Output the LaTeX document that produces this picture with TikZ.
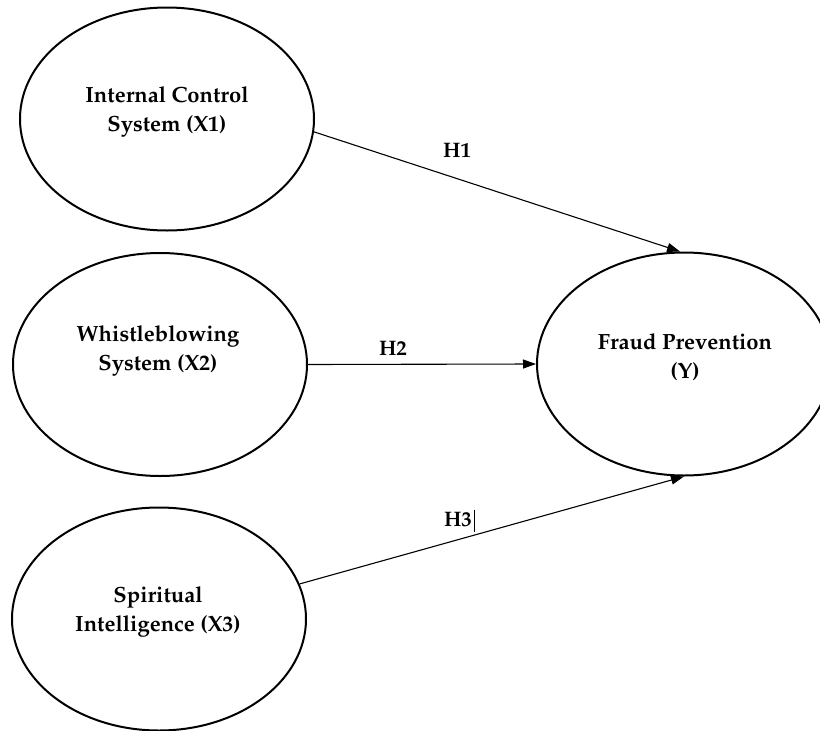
\documentclass[tikz,border=0pt]{standalone}
\usepackage[T1]{fontenc}
\usepackage{mathpazo}
\usetikzlibrary{shapes.geometric,arrows.meta}
\begin{document}
\begin{tikzpicture}[x=1pt,y=-1pt,
  var/.style={ellipse,draw,line width=2pt,minimum width=294pt,minimum height=223pt,inner sep=0pt},
  txt/.style={font=\fontsize{22}{29}\selectfont\bfseries,align=center,inner sep=0pt},
  hyp/.style={font=\fontsize{21}{25}\selectfont\bfseries,inner sep=0pt},
  link/.style={line width=1.1pt,-{Triangle[length=13pt,width=9pt]}}]
\useasboundingbox (0,0) rectangle (820,731);
\fill[white] (0,0) rectangle (820,731);
% constructs
\node[var] (X1) at (167,119) {};
\node[var] (X2) at (160,364.5) {};
\node[var] (X3) at (159,619) {};
\node[var] (Y)  at (684,364) {};
% texts
\node[txt] (X1t) at (167,112) {Internal Control\\System (X1)};
\node[txt] (X2t) at (158,351) {Whistleblowing\\System (X2)};
\node[txt] (X3t) at (158,612) {Spiritual\\Intelligence (X3)};
\node[txt] (Yt)  at (685,357) {Fraud Prevention\\(Y)};
% paths
\draw[link] (X1.-5) -- (Y.92);
\draw[link] (X2.east) -- (Y.west);
\draw[link] (X3.14) -- (Y.south);
% labels
\node[hyp] (h1) at (457,151) {H1};
\node[hyp] (h2) at (393,349) {H2};
\node[hyp] (h3) at (458,520) {H3};
\draw[line width=0.8pt] ([shift={(2,-3)}]h3.north east) -- ([shift={(2,5)}]h3.south east);
\end{tikzpicture}
\end{document}
